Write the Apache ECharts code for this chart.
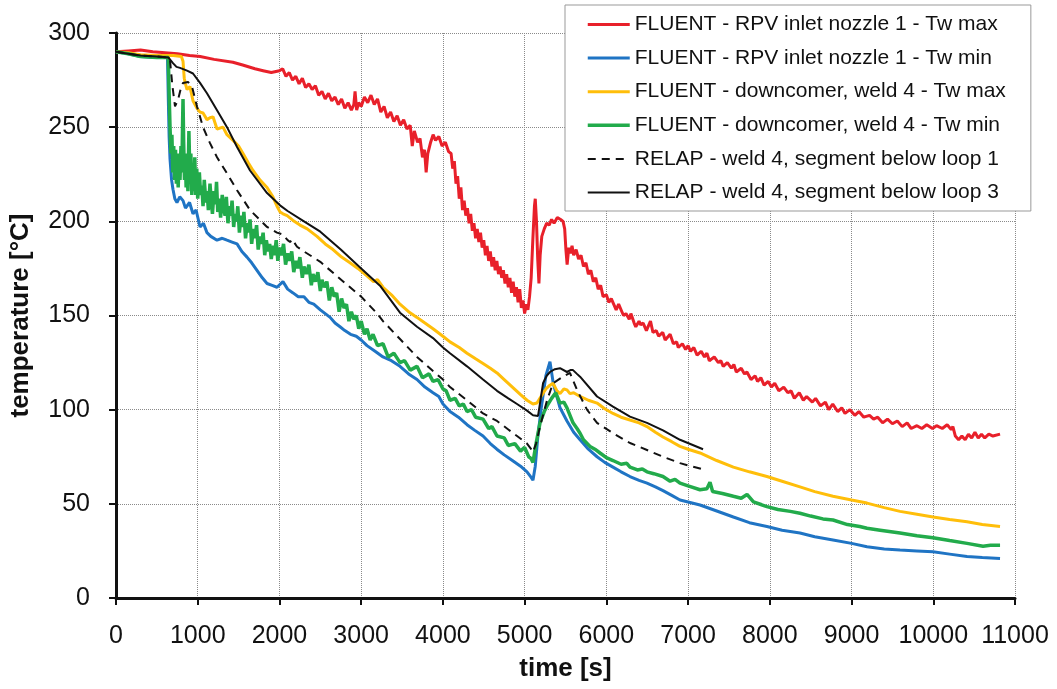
<!DOCTYPE html>
<html>
<head>
<meta charset="UTF-8">
<script src="https://cdn.jsdelivr.net/npm/echarts@6/dist/echarts.min.js"></script>
<title>temperature</title>
<style>
  html, body { margin:0; padding:0; background:#fff; }
  #chart { width:1057px; height:689px; }
</style>
</head>
<body>
<div id="chart"></div>
<script>
// [time s, temperature °C]
var redTwMax = [
[0,290],[150,290.5],[300,291],[450,290],[600,289.5],[750,289],[900,288],[1030,287.5],[1200,286],[1430,284.5],[1550,283],[1700,281],[1800,280],[1900,279],
[2000,280],[2040,281],[2080,277],[2120,279],[2160,275],[2200,277],[2240,273],[2280,276],[2320,271],[2360,273],[2400,270],[2440,272],[2480,267],[2520,269],[2560,265],[2600,268],[2640,264],[2680,266],[2720,262],[2760,265],[2800,260],[2840,263],[2880,259],[2910,262],[2925,269],[2945,259],[2970,263],[3000,261],[3040,266],[3080,263],[3120,267],[3160,262],[3200,265],[3240,258],[3280,261],[3320,255],[3360,258],[3400,253],[3440,256],[3480,251],[3520,254],[3560,249],[3600,251],[3625,240],[3650,248],[3690,242],[3720,244],[3750,234],[3775,238],[3795,226],[3815,236],[3850,242],[3880,246],[3910,243],[3950,245],[3990,240],[4030,242],[4070,237],[4100,236],[4120,228],[4140,232],[4160,220],[4180,224],[4200,212],[4220,218],[4240,206],[4260,211],[4280,203],[4300,207],[4320,199],[4340,204],[4360,195],[4380,199],[4400,191],[4420,196],[4440,189],[4460,194],[4480,186],[4500,190],[4520,182],[4540,187],[4560,179],[4580,184],[4600,176],[4620,181],[4640,174],[4660,179],[4680,172],[4700,176],[4720,170],[4740,174],[4760,167],[4780,172],[4800,165],[4820,170],[4840,162],[4860,168],[4880,160],[4900,165],[4920,157],[4940,164],[4960,154],[4980,158],[5000,151],[5020,156],[5040,153],[5060,160],[5080,170],[5100,190],[5120,208],[5130,212],[5145,200],[5160,180],[5175,167],[5190,182],[5210,192],[5240,196],[5270,199],[5300,198],[5330,201],[5360,199],[5400,202],[5440,201],[5470,200],[5490,196],[5505,185],[5520,177],[5540,186],[5560,183],[5580,187],[5600,182],[5630,185],[5660,180],[5690,182],[5720,176],[5750,178],[5780,172],[5810,174],[5840,168],[5870,170],[5900,164],[5930,166],[5960,160],
[6000,161],[6030,157],[6060,159],[6100,155],[6120,153],[6150,156],[6190,152],[6210,150],[6240,151],[6280,148],[6300,151],[6340,146],[6360,144],[6400,147],[6420,145],[6450,146],[6490,142],[6520,145],[6540,147],[6570,141],[6610,142],[6640,139],[6690,141],[6720,137],[6740,138],[6780,140],[6820,135],[6860,136],[6880,133],[6930,135],[6970,132],[7000,134],[7030,131],[7070,133],[7110,129],[7160,131],[7200,128],[7230,130],[7260,126],[7320,128],[7370,125],[7400,126],[7430,123],[7480,125],[7530,122],[7560,124],[7590,120],[7650,122],[7690,119],[7720,120],[7770,116],[7820,118],[7850,115],[7890,117],[7930,113],[7980,115],
[8020,112],[8060,114],[8110,110],[8170,112],[8220,109],[8260,110],[8300,106],[8360,109],[8410,105],[8450,107],[8520,104],[8560,106],[8620,102],[8680,104],[8720,100],[8770,103],[8830,99],[8880,101],[8920,98],[8980,100],[9040,97],[9090,99],[9150,96],[9220,97],[9270,95],[9320,96],[9380,93],[9440,95],[9500,92.5],[9560,94],[9620,91],[9680,93],[9730,90],[9800,91.5],[9860,90],[9920,92],[9990,90],[10040,91.5],[10110,90],[10170,92],[10220,89.5],
[10240,91],[10270,86],[10310,84],[10350,86],[10390,84],[10430,87],[10470,85],[10510,88],[10550,85],[10590,87],[10630,85],[10680,87],[10730,86],[10817,87]
];
var blueTwMin = [
[0,290],[150,289],[300,287.5],[500,287],[630,287],[640,265],[650,245],[661,233],[680,222],[697,217],[720,212],[746,210],[780,213],[820,211],[850,207],[869,208],[900,210],[942,204],[980,206],[1028,197],[1070,199],[1113,194],[1160,192],[1236,190],[1300,191],[1358,190],[1420,189],[1481,188],[1540,184],[1603,181],[1660,178],[1725,174],[1790,170],[1848,167],[1910,166],[1970,165],[2043,168],[2100,164],[2166,162],[2230,160],[2300,160],[2360,157],[2420,156],[2500,153],[2560,151],[2620,149],[2680,146],[2741,144],[2800,142],[2870,140],[2940,139],[3000,137],[3071,134],[3170,131],[3267,128],[3370,126],[3475,123],[3580,119],[3683,116],[3780,112],[3879,109],[3950,107],[4001,103],[4087,99],[4190,96],[4295,92],[4390,89],[4491,86],[4580,82],[4660,79],[4750,76],[4850,73],[4950,70],[5029,67],[5080,64],[5102,62.5],[5130,70],[5160,85],[5200,100],[5260,118],[5310,125.5],[5350,114],[5400,106],[5433,101],[5518,94],[5600,88],[5678,84],[5780,79],[5886,75],[5980,72],[6081,69.5],[6180,67],[6289,64.5],[6400,62.5],[6497,61],[6600,59],[6693,57],[6800,54.5],[6901,52],[7000,51],[7146,49.4],[7300,47],[7554,43],[7750,40],[7965,38],[8150,36],[8369,34.5],[8550,32.5],[8773,30.8],[9000,29],[9189,27.2],[9400,26],[9593,25.5],[9800,25],[9997,24.5],[10200,23.3],[10413,22],[10600,21.5],[10817,21]
];
var yellowTwMax = [
[0,290],[150,289.5],[300,288.5],[500,288],[700,288],[800,287.5],[820,285],[835,276],[850,273],[869,270],[905,271.5],[942,264],[991,260],[1028,258],[1065,257.5],[1113,254],[1150,255],[1187,255.5],[1236,249],[1309,250],[1358,246],[1432,243],[1500,240],[1554,236],[1620,231],[1676,227],[1760,222],[1848,218],[1920,213],[1970,208],[2007,205],[2043,204],[2094,203],[2166,200.5],[2251,198],[2340,196],[2459,192],[2560,188],[2655,185],[2760,181],[2863,178],[2960,175],[3071,171],[3150,168],[3200,169],[3267,165],[3370,161],[3475,156],[3580,152],[3683,149],[3780,146],[3879,143],[4000,139],[4087,136],[4200,133],[4295,130],[4400,127],[4491,124.5],[4580,122],[4662,119.5],[4750,116],[4850,112],[4950,108],[5029,105],[5102,103],[5151,103.5],[5200,107],[5260,111],[5310,113],[5347,114],[5396,110],[5433,108.5],[5480,111],[5518,110.5],[5555,108.5],[5600,109],[5678,107],[5780,105],[5886,103.5],[5980,100.5],[6081,98],[6180,96],[6289,94.5],[6400,93],[6497,91],[6600,88],[6693,85.5],[6800,83],[6901,80.5],[7000,79],[7146,77],[7350,73],[7554,69.5],[7750,67],[7965,64.5],[8150,62],[8369,59],[8550,56.5],[8773,54],[9000,52],[9189,50.4],[9400,48],[9593,46],[9800,44.5],[9997,43],[10200,41.7],[10413,40.5],[10600,39],[10817,38]
];
var greenTwMin = [
[0,290],[150,289],[300,287.5],[500,287],[640,287],[650,268],[661,250],[672,236],[684,246],[695,226],[706,240],[717,222],[728,238],[739,220],[750,236],[761,218],[772,234],[783,222],[795,240],[806,226],[814,250],[820,265],[828,242],[838,222],[848,236],[858,218],[869,232],[880,216],[892,248],[904,224],[916,236],[928,214],[940,230],[952,216],[964,234],[976,214],[988,228],
[1000,212],[1020,226],[1035,214],[1050,219],[1065,208],[1080,222],[1100,210],[1115,216],[1130,206],[1150,220],[1165,211],[1180,204],[1200,216],[1215,209],[1230,221],[1245,205],[1265,212],[1280,202],[1300,214],[1315,207],[1335,203],[1350,213],[1370,199],[1390,208],[1405,203],[1420,211],[1440,197],[1455,204],[1475,200],[1490,208],[1510,194],[1530,203],[1550,197],[1565,205],[1585,191],[1605,199],[1620,194],[1640,201],[1660,188],[1680,196],[1700,191],[1720,198],[1740,185],[1760,192],[1780,188],[1800,194],[1820,182],[1840,190],[1860,184],[1880,188],[1900,180],[1920,187],[1940,182],[1960,190],[1980,179],[2000,186],
[2025,182],[2050,188],[2075,177],[2100,183],[2125,179],[2150,184],[2175,173],[2200,179],[2225,175],[2250,181],[2280,170],[2300,176],[2330,172],[2360,177],[2390,166],[2410,172],[2440,168],[2470,173],[2500,163],[2520,169],[2550,165],[2580,168],[2610,158],[2640,165],[2670,160],[2700,162],[2730,152],[2760,159],[2790,154],[2820,156],[2850,147],[2880,152],[2910,148],[2940,150],[2970,143],[3000,147],
[3040,140],[3071,143],[3110,137],[3145,140],[3200,134],[3267,135],[3330,128],[3400,130],[3475,125],[3530,126],[3600,121],[3683,123],[3750,117],[3830,119],[3879,115],[3940,116],[4001,111],[4040,110],[4087,105],[4150,106],[4200,102],[4250,103],[4295,99],[4350,100],[4400,96],[4491,95],[4560,90],[4600,91],[4662,86],[4750,85],[4800,81],[4880,82],[4950,78],[5000,80],[5050,75],[5080,74],[5102,72],[5140,82],[5188,93],[5240,99],[5274,102],[5330,106],[5380,109],[5433,103.5],[5480,104],[5518,101],[5555,97],[5592,93],[5641,90],[5678,87.5],[5720,84],[5800,80.5],[5860,79],[5922,77],[6000,74.5],[6081,73],[6180,71],[6250,71.5],[6289,69.5],[6380,68],[6440,68.5],[6497,67],[6580,66],[6693,64.5],[6780,62],[6840,63],[6901,61],[7000,59.5],[7146,57.5],[7230,58],[7268,61.5],[7300,56.5],[7420,55.5],[7554,54],[7650,53],[7721,55],[7800,51],[7900,49.5],[7965,48.5],[8100,47],[8250,46],[8369,45],[8500,43.5],[8650,42],[8773,41.4],[8950,39],[9100,38],[9189,37],[9350,36],[9593,34.5],[9800,33],[9997,32],[10200,30.5],[10413,29],[10609,27.5],[10700,28],[10817,28]
];
var relapLoop1 = [
[0,290],[150,289],[300,288],[500,287.5],[640,287],[661,285.5],[690,272],[722,261],[759,264.5],[790,270],[820,273.5],[881,274],[930,271.5],[991,261],[1065,250],[1150,241.5],[1236,234],[1358,225.5],[1481,216.5],[1640,206],[1848,197],[1970,194],[2043,193],[2100,190],[2130,189],[2155,190.5],[2215,186.5],[2300,184],[2500,178.5],[2700,171],[3000,160],[3196,151],[3267,147],[3475,137.5],[3683,128],[3879,120.5],[4001,116],[4087,112],[4295,105],[4491,98],[4662,94],[4800,89.5],[4907,86],[5029,82],[5080,79],[5102,77.5],[5140,82],[5188,91],[5274,105],[5347,114],[5469,117.5],[5555,119.5],[5641,110.5],[5763,100],[5886,93],[6081,87.5],[6289,82.3],[6497,78.6],[6693,75],[6901,71.6],[7207,68]
];
var relapLoop3 = [
[0,290],[150,289],[300,288],[500,287.5],[640,287],[661,286.5],[697,284],[740,282],[783,281.5],[869,280],[942,278.5],[1028,273.5],[1113,268],[1236,259],[1358,250],[1481,239.5],[1640,227],[1848,215],[2007,208.5],[2100,205.5],[2300,200],[2500,194.5],[2750,185],[3000,175],[3237,165.5],[3475,151.5],[3683,144],[3879,138],[4001,133],[4087,130],[4295,123],[4491,116],[4662,110],[4800,106],[4907,103],[5029,99.5],[5102,97],[5164,96.7],[5190,104],[5225,114],[5270,118],[5310,120],[5370,121.5],[5433,122],[5518,120],[5560,121],[5592,121],[5640,119],[5678,117.5],[5886,107],[6081,101.6],[6289,96.3],[6497,93],[6693,89],[6901,84],[7183,79]
];
var seriesNames = [
  'FLUENT - RPV inlet nozzle 1 - Tw max',
  'FLUENT - RPV inlet nozzle 1 - Tw min',
  'FLUENT - downcomer, weld 4 - Tw max',
  'FLUENT - downcomer, weld 4 - Tw min',
  'RELAP - weld 4, segment below loop 1',
  'RELAP - weld 4, segment below loop 3'
];

var font = '"Liberation Sans", Arial, sans-serif';
var chart = echarts.init(document.getElementById('chart'));

function line(name, data, color, width, type) {
  return {
    name: name,
    type: 'line',
    data: data,
    symbol: 'none',
    showSymbol: false,
    lineStyle: { color: color, width: width, type: type || 'solid' },
    itemStyle: { color: color }
  };
}

var option = {
  animation: false,
  backgroundColor: '#fff',
  grid: { left: 116, right: 42, top: 33, bottom: 91 },
  legend: {
    orient: 'vertical',
    left: 565,
    top: 5,
    padding: [9, 25, 8, 21],
    itemWidth: 42,
    itemHeight: 14,
    itemGap: 12.6,
    backgroundColor: '#fff',
    borderColor: '#999',
    borderWidth: 1,
    // hide the round marker, keep the line
    itemStyle: { opacity: 0, color: 'rgba(0,0,0,0)', borderWidth: 0 },
    lineStyle: { width: 'inherit' },
    textStyle: { fontFamily: font, fontSize: 21, color: '#111' },
    data: seriesNames
  },
  xAxis: {
    type: 'value',
    min: 0, max: 11000, interval: 1000,
    name: 'time [s]',
    nameLocation: 'middle',
    nameGap: 58,
    nameTextStyle: { fontFamily: font, fontSize: 26, fontWeight: 'bold', color: '#111' },
    axisLine: { lineStyle: { color: '#111', width: 3 } },
    axisTick: { show: true, length: 7, lineStyle: { color: '#111', width: 2 } },
    axisLabel: { fontFamily: font, fontSize: 25, color: '#111', margin: 26,
      formatter: function (v) { return String(v); } },
    splitLine: { show: true, lineStyle: { color: '#8a8a8a', width: 1, type: 'dotted' } }
  },
  yAxis: {
    type: 'value',
    min: 0, max: 300, interval: 50,
    name: 'temperature [°C]',
    nameLocation: 'middle',
    nameGap: 82,
    nameTextStyle: { fontFamily: font, fontSize: 26, fontWeight: 'bold', color: '#111' },
    axisLine: { show: true, lineStyle: { color: '#111', width: 3 } },
    axisTick: { show: true, length: 7, lineStyle: { color: '#111', width: 2 } },
    axisLabel: { fontFamily: font, fontSize: 25, color: '#111', margin: 26 },
    splitLine: { show: true, lineStyle: { color: '#8a8a8a', width: 1, type: 'dotted' } }
  },
  series: [
    line(seriesNames[0], redTwMax, '#e8202a', 3),
    line(seriesNames[1], blueTwMin, '#1f74c4', 3),
    line(seriesNames[2], yellowTwMax, '#ffbe0a', 3),
    line(seriesNames[3], greenTwMin, '#22ab4b', 3.5),
    line(seriesNames[4], relapLoop1, '#111', 2, [8, 6]),
    line(seriesNames[5], relapLoop3, '#111', 2)
  ]
};
chart.setOption(option);
</script>
</body>
</html>
